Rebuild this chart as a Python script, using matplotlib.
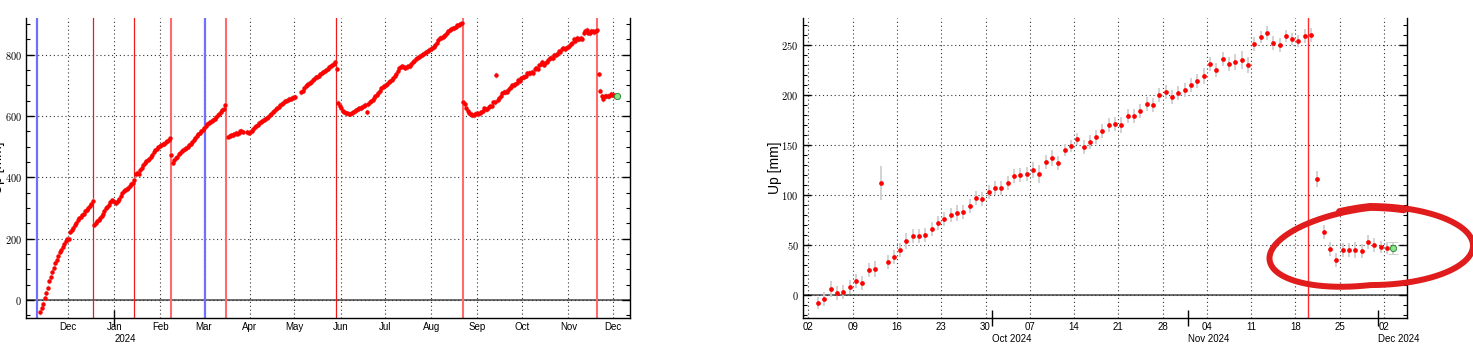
import numpy as np
import pandas as pd
import matplotlib
matplotlib.use("Agg")
import matplotlib.pyplot as plt
import matplotlib.dates as mdates
from matplotlib.lines import Line2D
from matplotlib.ticker import MultipleLocator, FuncFormatter

plt.rcParams['font.family'] = ['Liberation Sans', 'DejaVu Sans']
plt.rcParams['mathtext.fontset'] = 'cm'

nan = np.nan

# ---- long series (daily Up, mm), one list per month ----
up_2023_11 = [-39, -25, -13, 5, 22, 40, 62, 75, 92, 105, 120, 130, 143, 155, 163, 174, 182, 192, 199]  # from Nov 12
up_2023_12 = [198, 223, 228, 235, 243, 250, 262, 266, 272, 278, 282, 290, 294, 300, 306, 314, 324,
              246, 250, 258, 262, 268, 275, 282, 290, 300, 303, 310, 318, 325, 322]
up_2024_01 = [318, 315, 322, 330, 340, 350, 356, 360, 362, 366, 372, 378, 380, 392, 410, 415, 412,
              425, 432, 440, 446, 452, 456, 460, 468, 474, 482, 488, 494, 498, 502]
up_2024_02 = [504, 508, 510, 514, 518, 522, 530, 473, 448, 455, 462, 468, 475, 480, 485, 490, 494,
              497, 500, 506, 510, 515, 522, 528, 534, 540, 546, 550, 555]
up_2024_03 = [562, 568, 575, 578, 580, 584, 588, 592, 596, 602, 608, 614, 620, 624, 636, nan,
              533, 535, 537, 538, 540, 546, 543, 545, 550, 552, 549, nan, nan, 548, 546]
up_2024_04 = [548, 552, 558, 563, 568, 572, 577, 580, 584, 588, 590, 594, 598, 603, 608, 612, 616,
              622, 626, 631, 636, 640, 644, 648, 650, 652, 655, 657, 660, 661]
up_2024_05 = [663, nan, nan, nan, 678, 683, 690, 698, 702, 706, 708, 712, 718, 722, 726, 728, 732,
              736, 740, 744, 746, 750, 755, 760, 762, 767, 770, 778, 755, 642, 633]
up_2024_06 = [625, 618, 614, 611, 609, 608, 608, 609, 612, 616, 620, 623, 625, 627, 630, 634, 636,
              614, 640, 645, 650, 654, 658, 664, 670, 676, 682, 690, 694, 698]
up_2024_07 = [702, 706, 710, 714, 719, 723, 730, 738, 748, 756, 761, 762, 760, 758, 760, 762, 764,
              770, 776, 781, 785, 789, 792, 796, 800, 803, 806, 810, 813, 816, 820]
up_2024_08 = [822, 826, 832, 840, 848, 854, 856, 858, 862, 866, 870, 876, 881, 884, 886, 888, 892,
              896, 898, 902, 905, 647, 640, 625, 618, 610, 606, 604, 603, 606, 609]
up_2024_09 = [606, 610, 612, 616, 625, 622, 623, 628, 634, 632, 645, 646, 734, 653, 658, 665, 674,
              679, 679, 680, 686, 692, 696, 700, 702, 703, 709, 717, 716, 723]
up_2024_10 = [727, 727, 732, 739, 740, 741, 745, 741, 753, 757, 752, 765, 769, 776, 768, 774, 778,
              784, 790, 791, 790, 799, 799, 804, 811, 810, 820, 823, 818, 822, 825]
up_2024_11 = [830, 834, 839, 851, 845, 856, 851, 853, 855, 850, 871, 878, 882, 872, 870, 879, 876,
              874, 879, 880, 736, 683, 666, 655, 665, 665, 665, 664, 673, 670]
up_2024_12 = [668, 667]
long_months = [("2023-11-12", up_2023_11), ("2023-12-01", up_2023_12), ("2024-01-01", up_2024_01),
               ("2024-02-01", up_2024_02), ("2024-03-01", up_2024_03), ("2024-04-01", up_2024_04),
               ("2024-05-01", up_2024_05), ("2024-06-01", up_2024_06), ("2024-07-01", up_2024_07),
               ("2024-08-01", up_2024_08), ("2024-09-01", up_2024_09), ("2024-10-01", up_2024_10),
               ("2024-11-01", up_2024_11), ("2024-12-01", up_2024_12)]
long_sigma = 9
long_latest = ("2024-12-03 12:00", 667)

blue_events = ["2023-11-10", "2024-03-02"]
red_thin_events = ["2023-12-18", "2024-01-14", "2024-05-28 18:00"]
red_wide_events = ["2024-02-07 20:00", "2024-03-16", "2024-08-22", "2024-11-20"]

# ---- recent series (daily Up, mm) from Sep 3 2024 ----
recent_start = "2024-09-03 12:00"
recent_up = [-7.7, -4, 5.7, 1.7, 2.7, 8.3, 14, 12.3, 25, 26.3, 112.3, 33.3, 37.7, 45, 54, 58.7, 58.7,
             59.7, 66.3, 72, 76.3, 80, 82, 83, 89, 97.3, 96, 103.3,
             106.7, 107.3, 111.7, 119.3, 120, 121, 125.3, 121.3, 133, 137.3, 132, 144.7, 149, 155.7,
             148.3, 153.3, 158.3, 163.7, 170.3, 171.3, 169.7, 179.3, 179.3, 184.3, 191, 190.3, 199.7,
             202.7, 198, 202, 205.3,
             210.3, 213.7, 219, 230.7, 225.3, 236.3, 231, 233, 235, 229.7, 250.7, 258, 262, 252.3, 250,
             258.7, 256.3, 253.7, 259.3, 260.3, 115.7, 63.3, 46.3, 35.3, 44.7, 45.3, 45.3, 44.3, 52.7,
             50, 48, 47.3]
recent_err = [6, 7, 8, 7, 7, 7, 7, 7, 7, 8, 17, 7, 7, 7, 8, 7, 7, 7, 7, 7, 7, 7, 8, 7, 7, 7, 7, 7,
              7, 7, 7, 7, 7, 7, 8, 9, 7, 8, 7, 6, 6, 6, 7, 7, 7, 7, 7, 7, 8, 7, 7, 7, 7, 7, 7, 7, 7, 7, 7,
              7, 7, 8, 7, 7, 7, 7, 8, 9, 8, 7, 6, 7, 7, 7, 6, 6, 6, 7, 7, 8, 7, 7, 7, 7, 7, 8, 7, 7,
              7, 6, 6]
recent_latest = ("2024-12-03 12:00", 47.3, 6)
recent_events = ["2024-11-20"]

W, H = 1473, 344
fig = plt.figure(figsize=(W / 100, H / 100), dpi=100)
ax1 = fig.add_axes([26 / W, 26 / H, 604 / W, 300 / H])
ax2 = fig.add_axes([802.7 / W, 26 / H, 604.6 / W, 300 / H])

grid_kw = dict(color='#333333', lw=0.8, linestyle=(0, (1, 2.5)))


def style_axes(ax, ymajor, yminor):
    ax.spines['top'].set_visible(False)
    for s in ('left', 'right', 'bottom'):
        ax.spines[s].set_linewidth(1.0)
    ax.yaxis.set_major_locator(MultipleLocator(ymajor))
    ax.yaxis.set_minor_locator(MultipleLocator(yminor))
    ax.yaxis.set_major_formatter(FuncFormatter(lambda v, p: r'$%g$' % v))
    ax.tick_params(axis='y', which='major', direction='in', length=6, width=1,
                   left=True, right=True, labelsize=7.5, pad=3)
    ax.tick_params(axis='y', which='minor', direction='in', length=3, width=0.8,
                   left=True, right=True)
    ax.tick_params(axis='x', which='major', direction='in', length=0, labelsize=7, pad=3)
    ax.tick_params(axis='x', which='minor', length=0)
    ax.grid(True, which='major', **grid_kw)
    ax.axhline(0, color='#555555', lw=1.2, zorder=1.5)
    ax.set_ylabel('Up [mm]', fontsize=10)
    ax.yaxis.set_label_coords(-0.034, 0.5)


def year_axis(ax, ticks, labels):
    sec = ax.secondary_xaxis('bottom')
    sec.set_xticks([pd.Timestamp(t) for t in ticks])
    sec.set_xticklabels(labels)
    sec.tick_params(direction='inout', length=11, width=1, labelsize=7, pad=6)
    for lab in sec.get_xticklabels():
        lab.set_ha('left')
    sec.spines['bottom'].set_visible(False)
    return sec


# left panel: whole record
for start, vals in long_months:
    d = pd.date_range(pd.Timestamp(start) + pd.Timedelta(hours=12), periods=len(vals), freq='D')
    ax1.errorbar(d, vals, yerr=long_sigma, fmt='o', ms=3.2, color='red', mec='red', mew=0,
                 ecolor='#c4c4c4', elinewidth=1.0, capsize=2, capthick=0.8, zorder=3)
ax1.plot(pd.Timestamp(long_latest[0]), long_latest[1], 'o', ms=4.5, mfc='#8fe08f', mec='#2f8f2f',
         mew=0.7, zorder=4)
for t in blue_events:
    ax1.axvline(pd.Timestamp(t), color='#7070ff', lw=1.6, zorder=2)
for t in red_thin_events:
    ax1.axvline(pd.Timestamp(t), color='#ee1a1a', lw=0.9, zorder=2)
for t in red_wide_events:
    ax1.axvline(pd.Timestamp(t), color='#ff6a6a', lw=1.5, zorder=2)

style_axes(ax1, 200, 50)
ax1.set_ylim(-59, 920)
ax1.set_xlim(pd.Timestamp('2023-11-02 19:00'), pd.Timestamp('2024-12-12 10:00'))
ax1.xaxis.set_major_locator(mdates.MonthLocator())
ax1.xaxis.set_major_formatter(mdates.DateFormatter('%b'))
year_axis(ax1, ['2024-01-01'], ['2024'])

# right panel: last three months
rd = pd.date_range(recent_start, periods=len(recent_up), freq='D')
e = ax2.errorbar(rd, recent_up, yerr=recent_err, fmt='o', ms=3.4, color='red', mec='red', mew=0,
                 ecolor='#cfcfcf', elinewidth=1.3, capsize=3.6, capthick=1.0, zorder=3)
for cap in e[1]:
    cap.set_color('#8a8a8a')
g = ax2.errorbar(pd.Timestamp(recent_latest[0]), recent_latest[1], yerr=recent_latest[2], fmt='o',
                 ms=4.5, mfc='#8fe08f', mec='#2f8f2f', mew=0.7, ecolor='#cfcfcf', elinewidth=1.3,
                 capsize=3.6, capthick=1.0, zorder=4)
for cap in g[1]:
    cap.set_color('#8a8a8a')
for t in recent_events:
    ax2.axvline(pd.Timestamp(t), color='#ff2a2a', lw=1.0, zorder=2)

style_axes(ax2, 50, 10)
ax2.set_ylim(-23, 277)
ax2.set_xlim(pd.Timestamp('2024-09-01 02:00'), pd.Timestamp('2024-12-05 17:00'))
ax2.xaxis.set_major_locator(mdates.WeekdayLocator(byweekday=mdates.MO))
ax2.xaxis.set_major_formatter(mdates.DateFormatter('%d'))
year_axis(ax2, ['2024-10-01', '2024-11-01', '2024-12-01'], ['Oct 2024', 'Nov 2024', 'Dec 2024'])

# hand-drawn loop around the latest points
t = np.linspace(np.pi / 2 - 0.35, np.pi / 2 + 2 * np.pi + 0.3, 300)
grow = 1 + 0.05 * (t - t[0]) / (2 * np.pi)
px = 1370 + 99 * np.cos(t) * grow
py = 246 - 38 * np.sin(t) * grow + 12 * np.clip(-np.cos(t), 0, None)
fig.add_artist(Line2D(px / W, 1 - py / H, transform=fig.transFigure, color='#e01c1c', lw=4.3,
                      solid_capstyle='round', solid_joinstyle='round', zorder=10))

fig.savefig('out.png', dpi=100)
